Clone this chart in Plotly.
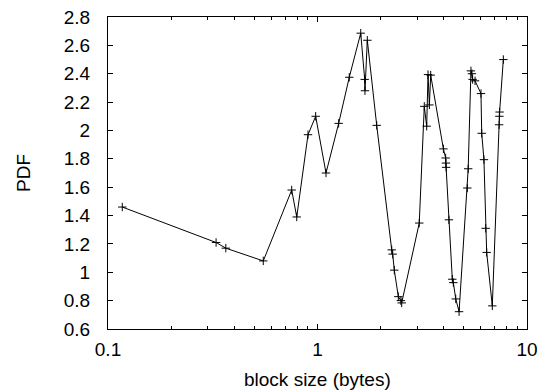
import plotly.graph_objects as go

block_size = [0.117, 0.328, 0.365, 0.551, 0.753, 0.796, 0.901, 0.980, 1.098, 1.262,
              1.418, 1.608, 1.680, 1.685, 1.729, 1.917, 2.261, 2.285, 2.326, 2.431,
              2.500, 2.523, 3.06, 3.234, 3.32, 3.37, 3.42, 3.47, 3.99, 4.09,
              4.10, 4.11, 4.24, 4.40, 4.45, 4.57, 4.74, 5.19, 5.24, 5.40,
              5.46, 5.50, 5.65, 6.03, 6.08, 6.23, 6.35, 6.42, 6.83, 7.36,
              7.38, 7.40, 7.71]
pdf = [1.46, 1.21, 1.17, 1.08, 1.58, 1.39, 1.97, 2.10, 1.70, 2.05,
       2.375, 2.686, 2.36, 2.28, 2.636, 2.036, 1.158, 1.128, 1.015, 0.828,
       0.80, 0.784, 1.347, 2.17, 2.03, 2.394, 2.18, 2.39, 1.87, 1.806,
       1.77, 1.74, 1.37, 0.951, 0.927, 0.812, 0.722, 1.594, 1.73, 2.42,
       2.40, 2.36, 2.35, 2.26, 1.98, 1.794, 1.31, 1.14, 0.763, 2.04,
       2.10, 2.13, 2.50]

x_ticks = [0.1, 1, 10]
x_tick_labels = ["0.1", "1", "10"]
y_ticks = [0.6, 0.8, 1.0, 1.2, 1.4, 1.6, 1.8, 2.0, 2.2, 2.4, 2.6, 2.8]
y_tick_labels = ["0.6", "0.8", "1", "1.2", "1.4", "1.6", "1.8", "2", "2.2", "2.4", "2.6", "2.8"]
x_title = "block size (bytes)"
y_title = "PDF"

fig = go.Figure()
fig.add_trace(go.Scatter(
    x=block_size, y=pdf, mode="lines+markers",
    line=dict(color="black", width=1),
    marker=dict(symbol="cross-thin", size=6, line=dict(color="black", width=1)),
    showlegend=False,
))

font = dict(family="Liberation Sans, Arial, sans-serif", size=19, color="black")
fig.update_layout(
    width=547, height=392,
    margin=dict(l=108, r=20, t=17, b=63, autoexpand=False),
    paper_bgcolor="white", plot_bgcolor="white",
    font=font,
    xaxis=dict(
        type="log", range=[-1, 1], automargin=False,
        tickvals=x_ticks, ticktext=x_tick_labels,
        ticks="inside", ticklen=5, tickwidth=1, tickcolor="black",
        showline=True, linecolor="black", linewidth=1, mirror="allticks",
        showgrid=False, zeroline=False,
        minor=dict(ticks="inside", ticklen=3, tickwidth=1, tickcolor="black",
                   dtick="D1", showgrid=False),
        ticklabelstandoff=3,
    ),
    yaxis=dict(
        range=[0.6, 2.8], automargin=False,
        tickvals=y_ticks, ticktext=y_tick_labels,
        ticks="inside", ticklen=5, tickwidth=1, tickcolor="black",
        showline=True, linecolor="black", linewidth=1, mirror="allticks",
        showgrid=False, zeroline=False,
        ticklabelstandoff=13,
    ),
    annotations=[
        dict(text=x_title, xref="paper", yref="paper", x=0.5, y=0,
             xanchor="center", yanchor="middle", yshift=-50, showarrow=False, font=font),
        dict(text=y_title, xref="paper", yref="paper", x=0, y=0.5,
             xanchor="center", yanchor="middle", xshift=-85, textangle=-90,
             showarrow=False, font=font),
    ],
)

fig.write_html("out.html", config={"displayModeBar": False},
               post_script="document.body.style.margin='0';")
